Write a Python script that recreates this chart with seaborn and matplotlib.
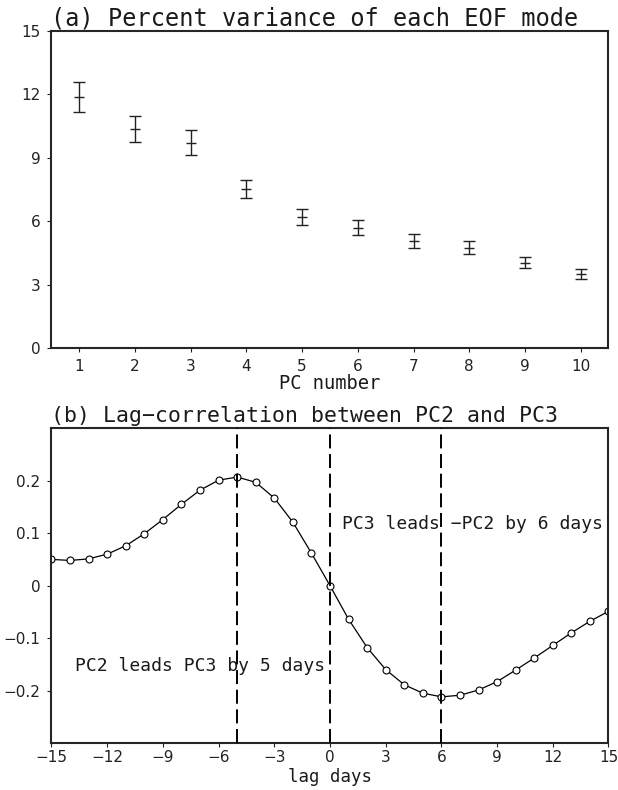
import numpy as np
import matplotlib
matplotlib.use("Agg")
import matplotlib.pyplot as plt
import seaborn as sns

# (a) percent variance of each EOF mode, with error bar half-widths
pc_number = [1, 2, 3, 4, 5, 6, 7, 8, 9, 10]
pct_var = [11.86, 10.37, 9.71, 7.52, 6.19, 5.69, 5.06, 4.75, 4.04, 3.51]
pct_err = [0.72, 0.62, 0.58, 0.44, 0.38, 0.36, 0.32, 0.30, 0.26, 0.24]

# (b) lag correlation between PC2 and PC3
lag_days = list(range(-15, 16))
lag_corr = [0.050, 0.048, 0.051, 0.060, 0.076, 0.099, 0.126, 0.155, 0.182, 0.201,
            0.207, 0.197, 0.167, 0.121, 0.062, 0.000, -0.064, -0.118, -0.160, -0.189,
            -0.205, -0.212, -0.209, -0.199, -0.183, -0.161, -0.138, -0.114, -0.090,
            -0.068, -0.049]
lead_lags = [-5, 0, 6]

sns.set_style("ticks")
plt.rcParams['font.family'] = ['DejaVu Sans']
plt.rcParams['axes.linewidth'] = 1.5
plt.rcParams['xtick.major.size'] = 3
plt.rcParams['ytick.major.size'] = 3
plt.rcParams['xtick.major.width'] = 0.8
plt.rcParams['ytick.major.width'] = 0.8

# wide, evenly spaced font for the titles and labels
wide = 'DejaVu Sans Mono'
ink = '#1a1a1a'

fig = plt.figure(figsize=(6.18, 7.9), dpi=100)

# ---- panel (a)
ax1 = fig.add_axes([0.0833, 0.5591, 0.9013, 0.402])
ax1.errorbar(pc_number, pct_var, yerr=pct_err, fmt='none', ecolor='#222222',
             elinewidth=1.0, capsize=4.5, capthick=1.0)
sns.scatterplot(x=pc_number, y=pct_var, marker='_', s=45, color='#222222',
                linewidth=1.0, ax=ax1, legend=False)
ax1.set_xlim(0.5, 10.5)
ax1.set_ylim(0, 15)
ax1.set_xticks(pc_number)
ax1.set_yticks([0, 3, 6, 9, 12, 15])
ax1.tick_params(labelsize=11, colors='#222222', pad=5)
ax1.set_xlabel('PC number', fontsize=13.5, family=wide, color=ink, labelpad=0)
ax1.set_title('(a) Percent variance of each EOF mode', loc='left', fontsize=17,
              family=wide, color=ink, pad=3)

# ---- panel (b)
ax2 = fig.add_axes([0.0833, 0.0595, 0.9013, 0.3984])
sns.lineplot(x=lag_days, y=lag_corr, color='black', lw=0.9, marker='o', markersize=5,
             markerfacecolor='white', markeredgecolor='black', markeredgewidth=0.8,
             ax=ax2, zorder=2)
for lg in lead_lags:
    ax2.axvline(lg, color='black', lw=1.4, dashes=(7.2, 2.9), zorder=3)
ax2.set_xlim(-15, 15)
ax2.set_ylim(-0.3, 0.3)
xt = list(range(-15, 16, 3))
ax2.set_xticks(xt)
ax2.set_xticklabels([str(v).replace('-', '\u2212') for v in xt])
yt = [-0.2, -0.1, 0, 0.1, 0.2]
ax2.set_yticks(yt)
ax2.set_yticklabels([f'{v:g}'.replace('-', '\u2212') for v in yt])
ax2.tick_params(labelsize=11, colors='#222222', pad=5)
ax2.tick_params(axis='x', pad=2)
ax2.set_xlabel('lag days', fontsize=12.5, family=wide, color=ink)
ax2.xaxis.set_label_coords(0.5, -0.081)
ax2.set_ylabel('')
ax2.set_title('(b) Lag\u2212correlation between PC2 and PC3', loc='left', fontsize=15.5,
              family=wide, color=ink, pad=4.5)
ax2.text(0.65, 0.117, 'PC3 leads \u2212PC2 by 6 days', fontsize=13, family=wide,
         color=ink, va='center', ha='left')
ax2.text(-13.73, -0.153, 'PC2 leads PC3 by 5 days', fontsize=13, family=wide,
         color=ink, va='center', ha='left')

fig.savefig('out.png', dpi=100)
